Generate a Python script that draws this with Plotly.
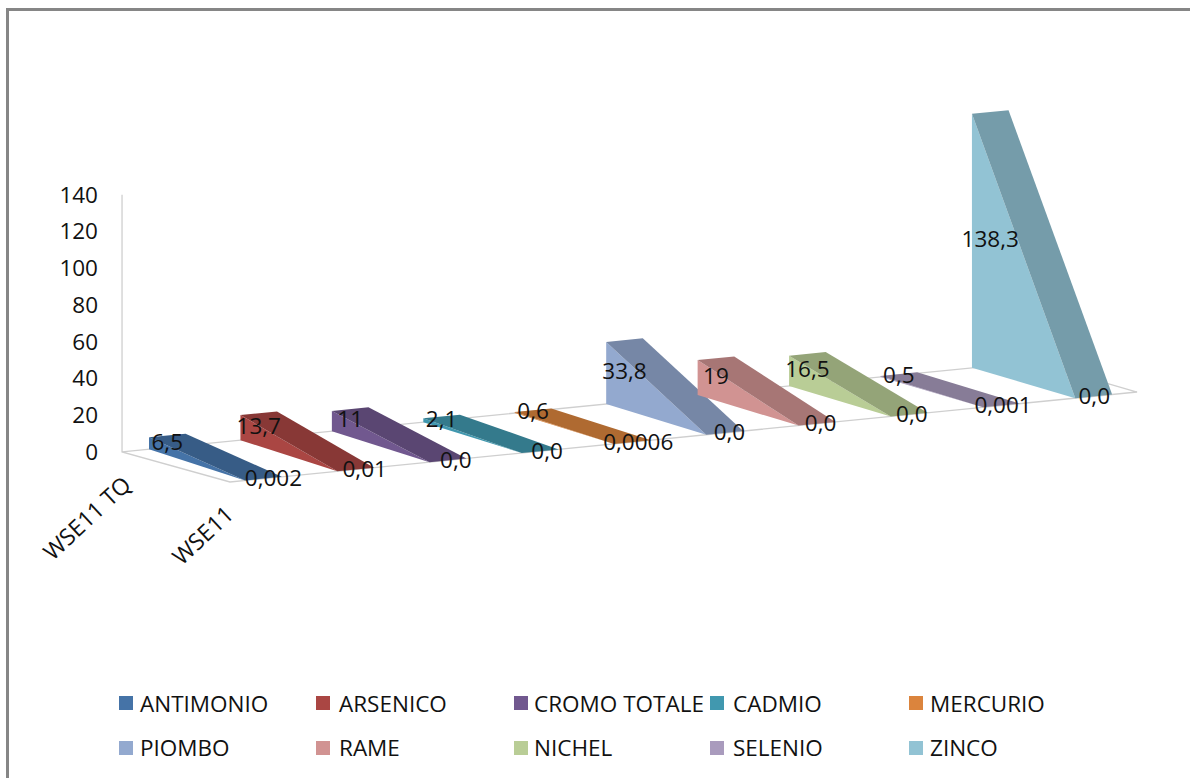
import plotly.graph_objects as go

# Metals shown as ribbons, one per depth slot
metals = ["ANTIMONIO", "ARSENICO", "CROMO TOTALE", "CADMIO", "MERCURIO",
          "PIOMBO", "RAME", "NICHEL", "SELENIO", "ZINCO"]
colors = ["#4573A7", "#AA4643", "#71588F", "#4198AF", "#DB843D",
          "#93A9CF", "#D19392", "#B9CD96", "#A99BBD", "#92C3D4"]

# Sampling stations
stations = ["WSE11 TQ", "WSE11"]
wse11_tq = [6.5, 13.7, 11, 2.1, 0.6, 33.8, 19, 16.5, 0.5, 138.3]
wse11 = [0.002, 0.01, 0.0, 0.0, 0.0006, 0.0, 0.0, 0.0, 0.001, 0.0]
wse11_tq_labels = ["6,5", "13,7", "11", "2,1", "0,6", "33,8", "19", "16,5", "0,5", "138,3"]
wse11_labels = ["0,002", "0,01", "0,0", "0,0", "0,0006", "0,0", "0,0", "0,0", "0,001", "0,0"]

value_ticks = [0, 20, 40, 60, 80, 100, 120, 140]

WIDTH, HEIGHT = 1190, 778
ZERO_PX = 452.0       # pixel row of value 0 on the vertical axis
PX_PER_UNIT = 1.837   # pixels per unit of value
RIBBON = 0.40         # ribbon width, as a share of one slot
FONT = "Open Sans"
INK = "#111111"
TEXT_SIZE = 22.5


def project(slot, depth, value):
    """Oblique projection: slot along the floor, depth 0 (back) to 1 (front), value upward."""
    back_x, back_y = 149.0 + 91.44 * slot, 449.3 - 9.05 * slot
    front_x, front_y = 245.0 + 92.25 * slot, 480.5 - 9.15 * slot
    x = back_x + (front_x - back_x) * depth
    y_px = back_y + (front_y - back_y) * depth
    return x, (ZERO_PX - y_px) / PX_PER_UNIT + value


def darker(hex_color, k=0.8):
    r, g, b = (int(hex_color[i:i + 2], 16) for i in (1, 3, 5))
    return f"rgb({r * k:.0f},{g * k:.0f},{b * k:.0f})"


def polygon(points, fill, name):
    xs, ys = zip(*points)
    return go.Scatter(x=list(xs) + [xs[0]], y=list(ys) + [ys[0]], mode="lines", name=name,
                      fill="toself", fillcolor=fill, line=dict(width=0, color=fill),
                      hoverinfo="name", showlegend=False)


fig = go.Figure()

# Floor outline and the vertical axis line
floor_back_left = project(-0.295, 0, 0)
floor_front_left = project(-0.163, 1, 0)
floor_front_right = project(9.67, 1, 0)
floor_back_right = project(9.67, 0, 0)
axis_top = project(-0.295, 0, value_ticks[-1])
outline = [axis_top, floor_back_left, floor_front_left, floor_front_right,
           floor_back_right, floor_back_left]
fig.add_trace(go.Scatter(x=[p[0] for p in outline], y=[p[1] for p in outline], mode="lines",
                         line=dict(color="#cfcfcf", width=1.3), hoverinfo="skip", showlegend=False))

# Ribbons: side face plus the darker sloping top
for i, metal in enumerate(metals):
    back, front = wse11_tq[i], wse11[i]
    fig.add_trace(polygon([project(i, 0, 0), project(i, 0, back),
                           project(i, 1, front), project(i, 1, 0)], colors[i], metal))
    fig.add_trace(polygon([project(i, 0, back), project(i + RIBBON, 0, back),
                           project(i + RIBBON, 1, front), project(i, 1, front)],
                          darker(colors[i]), metal))

# Value labels, placed halfway up each ribbon end
back_pts = [project(i + 0.2, 0, v / 2 - 1.4) for i, v in enumerate(wse11_tq)]
front_pts = [project(i + 0.2, 1, -1.0) for i in range(len(metals))]
front_x = [p[0] + 10 - 1.05 * i for i, p in enumerate(front_pts)]
fig.add_trace(go.Scatter(x=[p[0] for p in back_pts], y=[p[1] for p in back_pts], mode="text",
                         text=wse11_tq_labels, textposition="middle center",
                         textfont=dict(family=FONT, size=TEXT_SIZE, color=INK),
                         hoverinfo="skip", showlegend=False))
fig.add_trace(go.Scatter(x=front_x, y=[p[1] for p in front_pts], mode="text",
                         text=wse11_labels, textposition="middle center",
                         textfont=dict(family=FONT, size=TEXT_SIZE, color=INK),
                         hoverinfo="skip", showlegend=False))

# Key: two rows of five entries
key_x = [119, 316, 514, 710, 909]
key_text_x = [140, 339, 534, 733, 930]
key_y = [703, 748]
key_text_y = [703, 747]
for i, metal in enumerate(metals):
    col, row = i % 5, i // 5
    fig.add_trace(go.Scatter(x=[key_x[col] + 7], y=[(ZERO_PX - key_y[row]) / PX_PER_UNIT], mode="markers",
                             marker=dict(symbol="square", size=14, color=colors[i], line=dict(width=0)),
                             hoverinfo="skip", showlegend=False))
    fig.add_annotation(x=key_text_x[col], y=(ZERO_PX - key_text_y[row]) / PX_PER_UNIT, text=metal,
                       showarrow=False, xanchor="left", yanchor="middle", xshift=-2,
                       font=dict(family=FONT, size=TEXT_SIZE, color=INK))

# Station names along the depth axis
station_pos = [(86, 518), (202, 535)]
for name, (x, y_px) in zip(stations, station_pos):
    fig.add_annotation(x=x, y=(ZERO_PX - y_px) / PX_PER_UNIT, text=name, showarrow=False,
                       textangle=-43, xanchor="center", yanchor="middle",
                       font=dict(family=FONT, size=23, color=INK))

fig.update_layout(
    width=WIDTH, height=HEIGHT, autosize=False,
    margin=dict(l=0, r=0, t=0, b=0),
    paper_bgcolor="white", plot_bgcolor="white",
    showlegend=False,
    xaxis=dict(range=[0, WIDTH], visible=False, fixedrange=True),
    yaxis=dict(range=[(ZERO_PX - HEIGHT) / PX_PER_UNIT, ZERO_PX / PX_PER_UNIT],
               anchor="free", position=98 / WIDTH, side="left",
               tickmode="array", tickvals=value_ticks, ticks="", showgrid=False,
               zeroline=False, showline=False, fixedrange=True,
               tickfont=dict(family=FONT, size=TEXT_SIZE, color=INK)),
    shapes=[
        dict(type="line", xref="paper", yref="paper", x0=6 / WIDTH, x1=1,
             y0=1 - 9.5 / HEIGHT, y1=1 - 9.5 / HEIGHT, line=dict(color="#868686", width=3)),
        dict(type="line", xref="paper", yref="paper", x0=7.5 / WIDTH, x1=7.5 / WIDTH,
             y0=0, y1=1 - 8 / HEIGHT, line=dict(color="#868686", width=3)),
    ],
)

fig.write_html("out.html")
